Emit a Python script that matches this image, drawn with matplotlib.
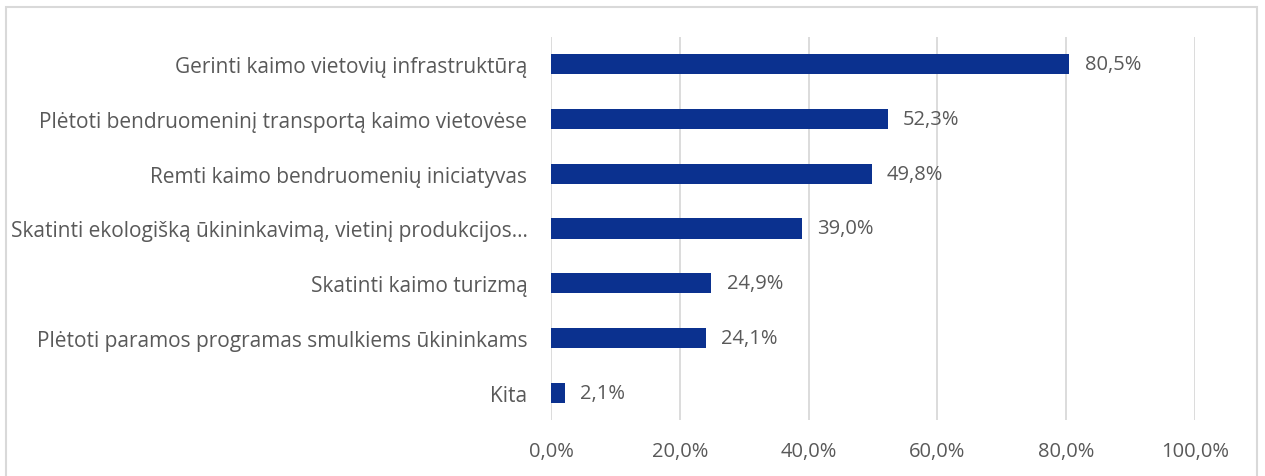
import matplotlib.pyplot as plt
from matplotlib.patches import Rectangle

# survey answers, top to bottom
categories = [
    'Gerinti kaimo vietovių infrastruktūrą',
    'Plėtoti bendruomeninį transportą kaimo vietovėse',
    'Remti kaimo bendruomenių iniciatyvas',
    'Skatinti ekologišką ūkininkavimą, vietinį produkcijos…',
    'Skatinti kaimo turizmą',
    'Plėtoti paramos programas smulkiems ūkininkams',
    'Kita',
]
values = [80.5, 52.3, 49.8, 39.0, 24.9, 24.1, 2.1]
xticks = [0, 20, 40, 60, 80, 100]

bar_color = '#0b318f'
text_color = '#595959'
grid_color = '#d9d9d9'

plt.rcParams['font.family'] = ['Open Sans', 'DejaVu Sans']

fig = plt.figure(figsize=(12.65, 4.77), dpi=100)
ax = fig.add_axes([551 / 1265, 1 - 421 / 477, 644 / 1265, 383 / 477])

y = list(range(len(categories)))
ax.barh(y, values, height=0.37, color=bar_color, zorder=3)
ax.set_ylim(len(categories) - 0.5, -0.5)
ax.set_xlim(0, 100)

for yi, v in zip(y, values):
    ax.annotate(f'{v:.1f}%'.replace('.', ','), xy=(v, yi), xytext=(11, 0),
                textcoords='offset points', va='center', ha='left',
                fontsize=14.5, color=text_color)

ax.set_yticks(y)
ax.set_yticklabels(categories, fontsize=15, color=text_color)
ax.set_xticks(xticks)
ax.set_xticklabels([f'{t:.1f}%'.replace('.', ',') for t in xticks],
                   fontsize=14.5, color=text_color)
ax.tick_params(axis='both', length=0)
ax.tick_params(axis='y', pad=17)
ax.tick_params(axis='x', pad=15)

ax.grid(axis='x', color=grid_color, linewidth=1.3, zorder=0)
for s in ax.spines.values():
    s.set_visible(False)

# light frame around the chart area
fig.patches.append(Rectangle((6 / 1265, -0.1), 1251 / 1265, 1.1 - 8 / 477,
                             transform=fig.transFigure, fill=False,
                             edgecolor=grid_color, linewidth=1.5))

fig.savefig('out.png', dpi=100, facecolor='white')
